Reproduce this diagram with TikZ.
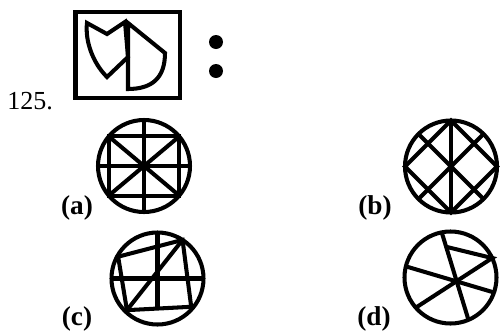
\documentclass[tikz,border=0pt]{standalone}
\usepackage{fontspec}
\setmainfont{Liberation Serif}
\begin{document}
\begin{tikzpicture}[
    x=0.02cm, y=-0.02cm,
    fig/.style={line width=2.3pt, line join=miter},
    lbl/.style={font=\fontsize{15.5}{18}\selectfont\bfseries, inner sep=0pt, anchor=base},
    num/.style={font=\fontsize{14.8}{17}\selectfont, inner sep=0pt, anchor=base west},
  ]
  \useasboundingbox (0,0) rectangle (501,332);
  \def\R{46}

  % question figure
  \node[num] (q) at (7,109) {125.};
  \draw[fig] (75.5,12) rectangle (180,98);
  \coordinate (s1) at (87,23);
  \coordinate (s2) at (107,34);
  \coordinate (s3) at (125,22);
  \coordinate (s4) at (128,57);
  \coordinate (s5) at (107,77);
  \draw[fig] (s1) -- (s2) -- (s3) -- (s4) -- (s5) .. controls (92,62) and (85,40) .. cycle;
  \coordinate (d1) at (128,23);
  \coordinate (d2) at (165,53);
  \coordinate (d3) at (128,89);
  \draw[fig] (d1) -- (d2) .. controls (165,78) and (152,89) .. (d3) -- cycle;
  \fill (216,42) circle[radius=7];
  \fill (216,71) circle[radius=7];

  % (a)
  \begin{scope}[shift={(144,166)}]
    \draw[fig] (0,0) circle[radius=\R];
    \draw[fig] (90:\R) -- (270:\R) (0:\R) -- (180:\R);
    \draw[fig] (40:\R) -- (140:\R) -- (220:\R) -- (320:\R) -- cycle;
    \draw[fig] (40:\R) -- (220:\R) (140:\R) -- (320:\R);
  \end{scope}
  \node[lbl] (la) at (77,214) {(a)};

  % (b)
  \begin{scope}[shift={(451,166.5)}]
    \draw[fig] (0,0) circle[radius=\R];
    \draw[fig] (90:\R) -- (270:\R);
    \draw[fig] (0:\R) -- (90:\R) -- (180:\R) -- (270:\R) -- cycle;
    \draw[fig] (45:\R) -- (225:\R) (135:\R) -- (315:\R);
  \end{scope}
  \node[lbl] (lb) at (375,214) {(b)};

  % (c)
  \begin{scope}[shift={(157.5,278.5)}]
    \draw[fig] (0,0) circle[radius=\R];
    \coordinate (c1) at (209:45);
    \coordinate (c2) at (303:46);
    \coordinate (c3) at (40:44);
    \coordinate (c4) at (134:44);
    \coordinate (cv) at (0,30);
    \draw[fig] (c1) -- (c2) -- (c3) -- (c4) -- cycle;
    \draw[fig] (c4) -- (c2);
    \draw[fig] (270:\R) -- (cv);
    \draw[fig] (0:\R) -- (180:\R);
  \end{scope}
  \node[lbl] (lc) at (77,325) {(c)};

  % (d)
  \begin{scope}[shift={(450.5,277.5)}]
    \draw[fig] (0,0) circle[radius=\R];
    \coordinate (e1) at (259:\R);
    \coordinate (e2) at (67:\R);
    \coordinate (e3) at (-4.3,-30.7);
    \coordinate (e4) at (335:\R);
    \coordinate (e5) at (139:\R);
    \coordinate (e6) at (194:\R);
    \coordinate (e7) at (19:\R);
    \draw[fig] (e1) -- (e2);
    \draw[fig] (e3) -- (e4) -- (e5);
    \draw[fig] (e6) -- (e7);
  \end{scope}
  \node[lbl] (ld) at (374,325) {(d)};
\end{tikzpicture}
\end{document}
